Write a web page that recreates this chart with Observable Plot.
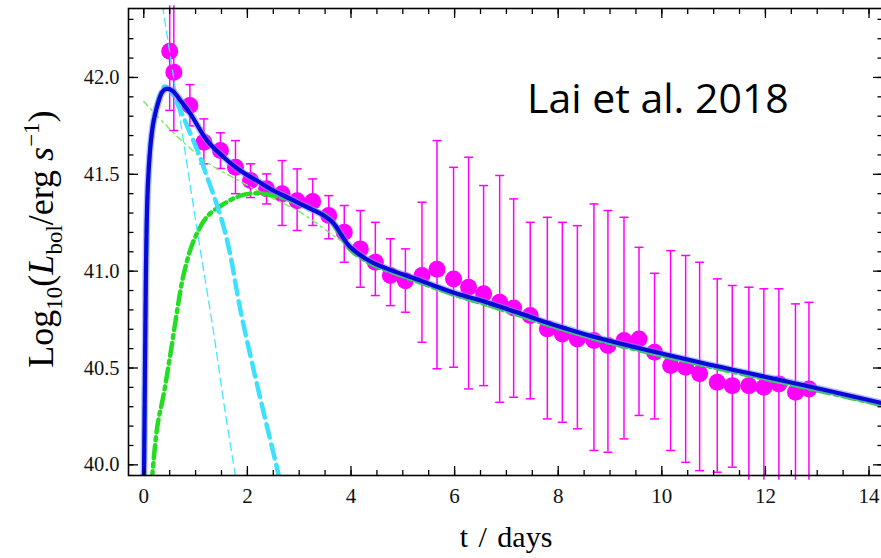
<!DOCTYPE html>
<html><head><meta charset="utf-8">
<script src="https://cdn.jsdelivr.net/npm/d3@7"></script>
<script src="https://cdn.jsdelivr.net/npm/@observablehq/plot@0.6"></script>
<style>body{margin:0;background:#fff;} svg{display:block}</style>
</head><body><div id="chart"></div>
<script>
// ---- observed bolometric light curve (t in days, log10 L) ----
const obsT  = [0.50,0.58,0.89,1.16,1.48,1.77,2.06,2.37,2.67,2.96,3.26,3.57,3.87,4.18,4.47,4.76,5.05,5.37,5.66,5.98,6.27,6.56,6.87,7.14,7.46,7.79,8.08,8.37,8.69,8.96,9.27,9.56,9.86,10.17,10.46,10.73,11.07,11.36,11.68,11.97,12.26,12.58,12.84];
const obsL  = [42.135,42.027,41.855,41.665,41.623,41.536,41.468,41.425,41.399,41.364,41.360,41.287,41.201,41.115,41.046,40.977,40.951,40.977,41.010,40.960,40.917,40.883,40.839,40.810,40.771,40.702,40.676,40.650,40.642,40.616,40.642,40.650,40.581,40.513,40.504,40.471,40.426,40.409,40.409,40.401,40.418,40.375,40.392];
const obsHi = [42.37,42.37,41.963,41.786,41.714,41.674,41.554,41.502,41.571,41.528,41.476,41.390,41.339,41.313,41.252,41.167,41.115,41.356,41.674,41.536,41.588,41.442,41.494,41.373,41.252,41.278,41.252,41.235,41.347,41.313,41.278,41.123,40.989,41.106,41.081,41.046,40.960,40.926,40.917,40.909,40.909,40.831,40.839];
const obsLo = [41.830,41.726,41.750,41.554,41.530,41.400,41.380,41.347,41.236,41.210,41.236,41.167,41.046,40.917,40.874,40.822,40.788,40.633,40.496,40.504,40.392,40.409,40.323,40.349,40.341,40.237,40.220,40.186,40.074,40.065,40.134,40.255,40.237,40.074,40.013,39.970,39.962,39.988,39.920,39.920,39.920,39.920,39.920];

// ---- model curves ----
const totalT = [0.0,0.004,0.023,0.042,0.068,0.10,0.139,0.193,0.29,0.361,0.438,0.554,0.708,0.901,1.224,1.544,1.867,2.189,2.51,2.832,3.154,3.475,3.668,3.797,3.99,4.376,4.699,5.342,5.985,6.629,7.272,7.851,8.817,10.747,12.678,14.26];
const totalL = [39.90,39.945,40.487,41.003,41.365,41.546,41.675,41.778,41.881,41.927,41.941,41.932,41.881,41.812,41.674,41.588,41.518,41.467,41.415,41.373,41.330,41.287,41.246,41.194,41.123,41.050,41.013,40.951,40.889,40.838,40.781,40.729,40.652,40.528,40.415,40.318];

const earlyT = [0.0,0.004,0.023,0.042,0.068,0.10,0.139,0.226,0.322,0.40,0.515,0.708,0.901,1.062,1.224,1.384,1.544,1.672,1.867,2.124,2.382,2.606,2.65];
const earlyL = [39.90,39.945,40.487,41.003,41.365,41.546,41.68,41.829,41.917,41.953,41.932,41.829,41.709,41.606,41.485,41.365,41.227,41.081,40.797,40.487,40.194,39.945,39.89];

const earlyThinT = [0.361,0.670,1.031,1.351,1.544,1.790];
const earlyThinL = [42.371,41.839,41.210,40.678,40.322,39.909];

const lateT = [0.15,0.259,0.386,0.515,0.645,0.772,0.965,1.224,1.544,1.867,2.189,2.51,2.832,3.154,3.541,3.797,3.99,4.376,4.699,5.342,5.985,6.629,7.272,7.851,8.817,10.747,12.678,14.26];
const lateL = [39.90,40.194,40.367,40.573,40.797,40.986,41.158,41.282,41.347,41.390,41.402,41.390,41.365,41.330,41.280,41.184,41.111,41.039,41.003,40.941,40.879,40.827,40.771,40.719,40.642,40.518,40.404,40.308];

const lateThinT = [0.0,0.452,0.838,1.224,1.867,2.317,3.025,3.797,4.376,5.342,6.629,8.817,10.747,12.678,14.26];
const lateThinL = [41.876,41.747,41.648,41.561,41.463,41.399,41.303,41.158,41.055,40.936,40.817,40.637,40.513,40.399,40.303];

// ---- ticks ----
const xMajorTicks = [0,2,4,6,8,10,12,14];
const xMinorTicks = [0,0.5,1,1.5,2,2.5,3,3.5,4,4.5,5,5.5,6,6.5,7,7.5,8,8.5,9,9.5,10,10.5,11,11.5,12,12.5,13,13.5,14];
const yMajorTicks = [40.0,40.5,41.0,41.5,42.0];
const yMinorTicks = [40.0,40.1,40.2,40.3,40.4,40.5,40.6,40.7,40.8,40.9,41.0,41.1,41.2,41.3,41.4,41.5,41.6,41.7,41.8,41.9,42.0,42.1,42.2,42.3];

const xDomain = [-0.295, 14.26];
const yDomain = [39.945, 42.356];

const obs = obsT.map((t, i) => ({t, L: obsL[i], hi: obsHi[i], lo: obsLo[i]}));
const toPts = (T, L) => T.map((t, i) => ({t, L: L[i]}));
const hiCaps = obs.filter(d => d.hi < yDomain[1]);
const loCaps = obs.filter(d => d.lo > yDomain[0]);

const MAG = "#ff00ff";
const capSymbol = {draw(ctx) { ctx.moveTo(-4.5, 0); ctx.lineTo(4.5, 0); }};
const serif = "'Liberation Serif','Times New Roman',serif";

const tickAxis = (fn, anchor, ticks, size) =>
  fn({anchor, ticks, tickSize: -size, fill: "none", label: null, strokeWidth: 1.3, stroke: "black"});

const chart = Plot.plot({
  width: 881, height: 558,
  marginLeft: 128, marginRight: -1, marginTop: 8, marginBottom: 83,
  style: {background: "white", fontFamily: serif, color: "black"},
  x: {domain: xDomain},
  y: {domain: yDomain},
  marks: [
    Plot.ruleX(obs, {x: "t", y1: "lo", y2: "hi", stroke: MAG, strokeWidth: 1.5}),
    Plot.dot(hiCaps, {x: "t", y: "hi", symbol: capSymbol, r: 4, stroke: MAG, strokeWidth: 1.5}),
    Plot.dot(loCaps, {x: "t", y: "lo", symbol: capSymbol, r: 4, stroke: MAG, strokeWidth: 1.5}),
    Plot.dot(obs, {x: "t", y: "L", r: 8.5, fill: MAG, stroke: "none"}),
    Plot.line(toPts(lateThinT, lateThinL), {x: "t", y: "L", curve: "catmull-rom", stroke: "#7ee860", strokeWidth: 1.4, strokeDasharray: "6,4,2,4", clip: true}),
    Plot.line(toPts(lateT, lateL), {x: "t", y: "L", curve: "catmull-rom", stroke: "#22dd22", strokeWidth: 4.5, strokeDasharray: "13,5,3,5", clip: true}),
    Plot.line(toPts(earlyThinT, earlyThinL), {x: "t", y: "L", curve: "catmull-rom", stroke: "#44e6ff", strokeWidth: 1.3, strokeDasharray: "8,5", clip: true}),
    Plot.line(toPts(earlyT, earlyL), {x: "t", y: "L", curve: "catmull-rom", stroke: "#3ee0ff", strokeWidth: 4.5, strokeDasharray: "14,7", clip: true}),
    Plot.line(toPts(totalT, totalL), {x: "t", y: "L", curve: "catmull-rom", stroke: "#7f8cff", strokeWidth: 7, strokeOpacity: 0.55, clip: true}),
    Plot.line(toPts(totalT, totalL), {x: "t", y: "L", curve: "catmull-rom", stroke: "#0808d8", strokeWidth: 4.2, clip: true}),
    Plot.frame({stroke: "black", strokeWidth: 1.6}),
    tickAxis(Plot.axisX, "bottom", xMinorTicks, 5),
    tickAxis(Plot.axisX, "bottom", xMajorTicks, 9),
    tickAxis(Plot.axisX, "top", xMinorTicks, 5),
    tickAxis(Plot.axisX, "top", xMajorTicks, 9),
    tickAxis(Plot.axisY, "left", yMinorTicks, 5.5),
    tickAxis(Plot.axisY, "left", yMajorTicks, 10),
    tickAxis(Plot.axisY, "right", yMinorTicks, 5.5),
    tickAxis(Plot.axisY, "right", yMajorTicks, 10),
    Plot.axisX({anchor: "bottom", ticks: xMajorTicks, tickSize: 0, tickPadding: 13, tickFormat: d => String(d), label: null, fontSize: 21, fill: "#111"}),
    Plot.axisY({anchor: "left", ticks: yMajorTicks, tickSize: 0, tickPadding: 9, tickFormat: d3.format(".1f"), label: null, fontSize: 20.5, fill: "#111"})
  ]
});

document.getElementById("chart").appendChild(chart);
const svg = d3.select(chart);

// y-axis title
const yl = svg.append("text")
  .attr("transform", "translate(53,239) rotate(-90)")
  .attr("text-anchor", "middle")
  .style("font-family", serif).style("font-size", "36px").attr("fill", "black");
yl.append("tspan").text("Log");
yl.append("tspan").attr("dy", 9).style("font-size", "23px").text("10");
yl.append("tspan").attr("dy", -9).text("(");
yl.append("tspan").style("font-style", "italic").text("L");
yl.append("tspan").attr("dy", 9).style("font-size", "23px").text("bol");
yl.append("tspan").attr("dy", -9).text("/erg ");
yl.append("tspan").style("font-style", "italic").text("s");
yl.append("tspan").attr("dy", -14).style("font-size", "23px").text("\u22121");
yl.append("tspan").attr("dy", 14).text(")");

// x-axis title
svg.append("text")
  .attr("x", 506).attr("y", 547)
  .attr("text-anchor", "middle")
  .style("font-family", serif).style("font-size", "30px").style("word-spacing", "3px").attr("fill", "black")
  .text("t / days");

// annotation
svg.append("text")
  .attr("x", 527).attr("y", 113)
  .attr("text-anchor", "start")
  .style("font-family", "'Open Sans', sans-serif").style("font-size", "41px").attr("fill", "black")
  .text("Lai et al. 2018");
</script>
</body></html>
